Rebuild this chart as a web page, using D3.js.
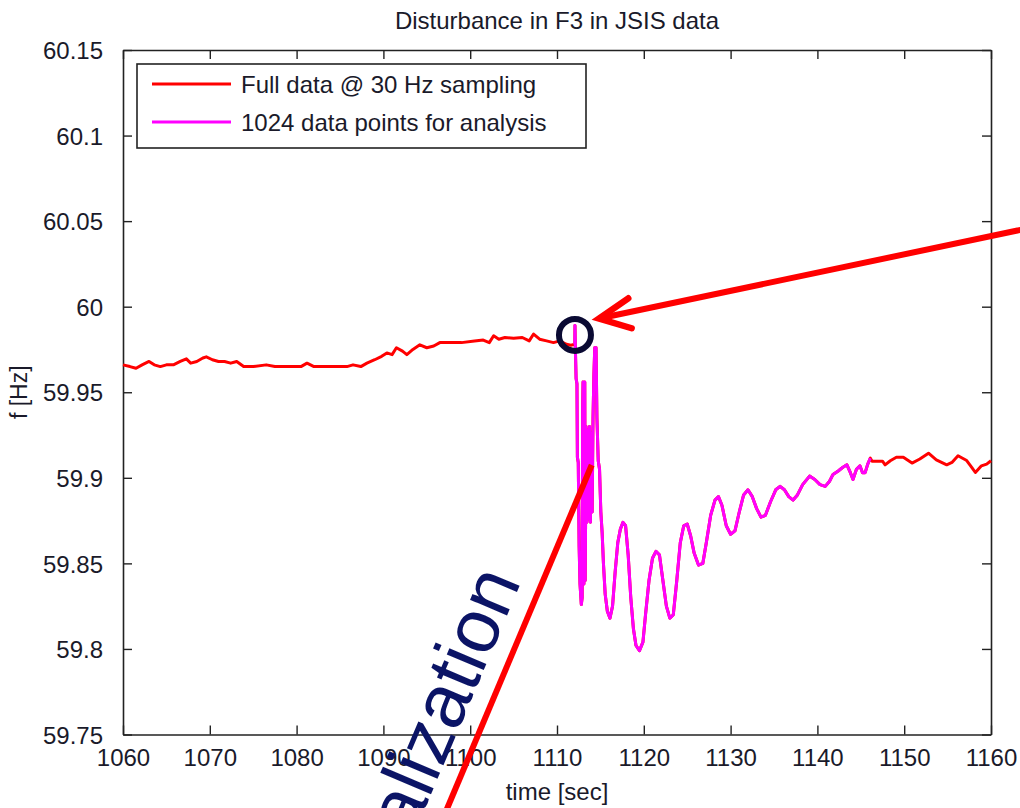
<!DOCTYPE html>
<html>
<head>
<meta charset="utf-8">
<script src="https://cdn.jsdelivr.net/npm/d3@7"></script>
<style>
  body { margin: 0; background: #fff; }
  svg { display: block; font-family: "Liberation Sans", Arial, sans-serif; }
</style>
</head>
<body>
<svg id="chart" width="1020" height="808"></svg>
<script>
// tick values
const xTicks = [1060, 1070, 1080, 1090, 1100, 1110, 1120, 1130, 1140, 1150, 1160];
const yTicks = [59.75, 59.8, 59.85, 59.9, 59.95, 60, 60.05, 60.1, 60.15];

const legendLabels = ["Full data @ 30 Hz sampling", "1024 data points for analysis"];

// full data before the analysis window [time, f]
const redBefore = [
  [1060.0, 59.966], [1060.8, 59.965], [1061.5, 59.964], [1062.2, 59.966], [1063.0, 59.968],
  [1063.6, 59.966], [1064.3, 59.965], [1065.0, 59.966], [1065.8, 59.966], [1066.6, 59.968],
  [1067.3, 59.9695], [1067.8, 59.967], [1068.5, 59.968], [1069.2, 59.970], [1069.6, 59.9707],
  [1070.3, 59.969], [1071.0, 59.968], [1071.7, 59.968], [1072.4, 59.967], [1073.1, 59.968],
  [1073.9, 59.965], [1075.0, 59.965], [1076.5, 59.966], [1077.5, 59.965], [1079.0, 59.965],
  [1080.5, 59.965], [1081.2, 59.967], [1082.0, 59.965], [1084.0, 59.965], [1085.8, 59.965],
  [1086.5, 59.966], [1087.4, 59.965], [1088.1, 59.967], [1089.0, 59.969], [1089.8, 59.971],
  [1090.4, 59.973], [1091.0, 59.972], [1091.5, 59.976], [1092.2, 59.974], [1092.7, 59.972],
  [1093.4, 59.975], [1094.2, 59.9777], [1095.0, 59.976], [1095.8, 59.977], [1096.5, 59.979],
  [1097.7, 59.979], [1099.0, 59.979], [1100.5, 59.980], [1101.5, 59.9805], [1102.2, 59.979],
  [1102.7, 59.983], [1103.3, 59.981], [1104.0, 59.982], [1105.0, 59.9815], [1106.0, 59.982],
  [1106.8, 59.980], [1107.3, 59.984], [1108.0, 59.981], [1108.8, 59.980], [1109.6, 59.979],
  [1110.3, 59.980], [1111.1, 59.978], [1111.6, 59.9775]
];

// the 1024 point analysis window
const analysis = [
  [1112.05, 59.978], [1112.07, 59.989], [1112.12, 59.975], [1112.2, 59.958], [1112.3, 59.955],
  [1112.35, 59.912], [1112.45, 59.909], [1112.55, 59.860], [1112.65, 59.838], [1112.8, 59.826],
  [1112.9, 59.830], [1112.95, 59.940], [1113.0, 59.956], [1113.05, 59.845], [1113.1, 59.838],
  [1113.15, 59.950], [1113.2, 59.956], [1113.25, 59.840], [1113.3, 59.880], [1113.35, 59.930],
  [1113.45, 59.874], [1113.55, 59.928], [1113.65, 59.876], [1113.75, 59.930], [1113.85, 59.874],
  [1113.95, 59.926], [1114.05, 59.880], [1114.15, 59.935], [1114.25, 59.960], [1114.35, 59.976],
  [1114.5, 59.976], [1114.6, 59.935], [1114.75, 59.910], [1114.9, 59.905], [1115.05, 59.880],
  [1115.2, 59.868], [1115.35, 59.850], [1115.55, 59.832], [1115.8, 59.822], [1116.1, 59.818],
  [1116.4, 59.825], [1116.7, 59.845], [1117.0, 59.862], [1117.3, 59.870], [1117.6, 59.874],
  [1117.9, 59.872], [1118.2, 59.855], [1118.5, 59.830], [1118.8, 59.812], [1119.1, 59.802],
  [1119.5, 59.799], [1119.9, 59.804], [1120.2, 59.820], [1120.6, 59.840], [1121.0, 59.853],
  [1121.4, 59.857], [1121.8, 59.855], [1122.2, 59.840], [1122.6, 59.825], [1123.0, 59.818],
  [1123.4, 59.820], [1123.8, 59.840], [1124.2, 59.862], [1124.6, 59.872], [1125.0, 59.873],
  [1125.4, 59.866], [1125.8, 59.856], [1126.3, 59.849], [1126.8, 59.850], [1127.2, 59.862],
  [1127.7, 59.878], [1128.2, 59.887], [1128.6, 59.889], [1129.0, 59.884], [1129.5, 59.872],
  [1130.0, 59.867], [1130.5, 59.869], [1131.0, 59.880], [1131.5, 59.890], [1132.0, 59.893],
  [1132.5, 59.889], [1133.0, 59.882], [1133.5, 59.877], [1134.0, 59.878], [1134.6, 59.886],
  [1135.2, 59.893], [1135.7, 59.895], [1136.2, 59.893], [1136.7, 59.889], [1137.2, 59.887],
  [1137.7, 59.890], [1138.3, 59.896], [1139.1, 59.901], [1139.7, 59.899], [1140.3, 59.896],
  [1140.9, 59.895], [1141.4, 59.898], [1141.8, 59.902], [1142.4, 59.904], [1142.9, 59.906],
  [1143.4, 59.9076], [1143.8, 59.903], [1144.1, 59.899], [1144.5, 59.905], [1144.9, 59.907],
  [1145.2, 59.903], [1145.5, 59.903], [1145.8, 59.908], [1146.1, 59.9115]
];

// full data after the analysis window
const redAfter = [
  [1146.3, 59.9097], [1147.5, 59.9097], [1147.8, 59.9076], [1148.4, 59.910], [1149.1, 59.912],
  [1149.9, 59.912], [1150.9, 59.9086], [1151.8, 59.911], [1152.8, 59.9144], [1153.7, 59.9105],
  [1154.9, 59.9076], [1155.5, 59.909], [1156.2, 59.9129], [1157.2, 59.9101], [1157.8, 59.906],
  [1158.2, 59.9031], [1158.9, 59.907], [1159.5, 59.908], [1160.0, 59.910]
];

// slide annotations, in data units
const markerPoint = [1112.07, 59.9835];
const arrowTail = [1163.9, 60.0454];
const arrowTip = [1114.84, 59.9931];
const arrowWings = [[1118.21, 60.0049], [1118.6, 59.9874]];
const slashLine = [[1114.0, 59.9075], [1096.3, 59.6942]];
const slashText = { at: [1105.9, 59.8395], label: "alization" };


const FreqChart = function(svg) {
  this.svg = d3.select(svg);
  this.margin = { left: 123, right: 29, top: 50, bottom: 73.5 };
  this.width = 1020 - this.margin.left - this.margin.right;
  this.height = 808 - this.margin.top - this.margin.bottom;

  this.x = d3.scaleLinear().domain([1060, 1160]).range([this.margin.left, this.margin.left + this.width]);
  this.y = d3.scaleLinear().domain([59.75, 60.15]).range([this.margin.top + this.height, this.margin.top]);

  this.line = d3.line()
    .x(d => this.x(d[0]))
    .y(d => this.y(d[1]));
};

FreqChart.prototype.draw = function() {
  this.drawAxes();
  this.drawSeries();
  this.drawLegend();
  this.drawLabels();
  this.drawAnnotations();
};

FreqChart.prototype.drawAxes = function() {
  const x = this.x, y = this.y, m = this.margin;
  const tick = 9;
  const fmt = d => String(+d.toFixed(2));

  const bottom = this.svg.append("g")
    .attr("transform", "translate(0," + (m.top + this.height) + ")")
    .call(d3.axisBottom(x).tickValues(xTicks).tickSizeInner(-tick).tickSizeOuter(0).tickPadding(14).tickFormat(d3.format("d")));
  const top = this.svg.append("g")
    .attr("transform", "translate(0," + m.top + ")")
    .call(d3.axisTop(x).tickValues(xTicks).tickSizeInner(-tick).tickSizeOuter(0).tickFormat(""));
  const left = this.svg.append("g")
    .attr("transform", "translate(" + m.left + ",0)")
    .call(d3.axisLeft(y).tickValues(yTicks).tickSizeInner(-tick).tickSizeOuter(0).tickPadding(20).tickFormat(fmt));
  const right = this.svg.append("g")
    .attr("transform", "translate(" + (m.left + this.width) + ",0)")
    .call(d3.axisRight(y).tickValues(yTicks).tickSizeInner(-tick).tickSizeOuter(0).tickFormat(""));

  [bottom, top, left, right].forEach(g => {
    g.select(".domain").attr("stroke", "#222").attr("stroke-width", 1.6);
    g.selectAll(".tick line").attr("stroke", "#222").attr("stroke-width", 1.4);
    g.selectAll("text")
      .attr("fill", "#1a1a2a")
      .style("font-size", "24px");
  });
  left.selectAll("text").attr("dy", "0.36em");
};

FreqChart.prototype.drawSeries = function() {
  const full = redBefore.concat(analysis, redAfter);

  this.svg.append("path")
    .datum(full)
    .attr("fill", "none")
    .attr("stroke", "#ff0000")
    .attr("stroke-width", 3)
    .attr("stroke-linejoin", "round")
    .attr("d", this.line);

  this.svg.append("path")
    .datum(analysis)
    .attr("fill", "none")
    .attr("stroke", "#ff00ff")
    .attr("stroke-width", 3)
    .attr("stroke-linejoin", "round")
    .attr("d", this.line);
};

FreqChart.prototype.drawLegend = function() {
  const g = this.svg.append("g").attr("transform", "translate(137,64)");
  const colors = ["#ff0000", "#ff00ff"];

  g.append("rect")
    .attr("width", 449)
    .attr("height", 84)
    .attr("fill", "#fff")
    .attr("stroke", "#222")
    .attr("stroke-width", 1.6);

  const item = g.selectAll(".item")
    .data(legendLabels)
    .enter().append("g")
    .attr("class", "item")
    .attr("transform", (d, i) => "translate(0," + (20 + i * 38) + ")");

  item.append("line")
    .attr("x1", 15).attr("x2", 94)
    .attr("stroke", (d, i) => colors[i])
    .attr("stroke-width", 3);

  item.append("text")
    .attr("x", 104)
    .attr("dy", "0.36em")
    .attr("fill", "#1a1a2a")
    .style("font-size", "24px")
    .text(d => d);
};

FreqChart.prototype.drawLabels = function() {
  const m = this.margin;
  const cx = m.left + this.width / 2;

  this.svg.append("text")
    .attr("x", cx).attr("y", 29)
    .attr("text-anchor", "middle")
    .attr("fill", "#1a1a2a")
    .style("font-size", "24px")
    .text("Disturbance in F3 in JSIS data");

  this.svg.append("text")
    .attr("x", cx).attr("y", 800)
    .attr("text-anchor", "middle")
    .attr("fill", "#1a1a2a")
    .style("font-size", "24px")
    .text("time [sec]");

  this.svg.append("text")
    .attr("transform", "translate(27," + (m.top + this.height / 2) + ") rotate(-90)")
    .attr("text-anchor", "middle")
    .attr("fill", "#1a1a2a")
    .style("font-size", "23px")
    .text("f [Hz]");
};

FreqChart.prototype.drawAnnotations = function() {
  const x = this.x, y = this.y;
  const g = this.svg.append("g");

  // pointer arrow into the start of the window
  g.append("line")
    .attr("x1", x(arrowTail[0])).attr("y1", y(arrowTail[1]))
    .attr("x2", x(arrowTip[0])).attr("y2", y(arrowTip[1]))
    .attr("stroke", "#ff0000")
    .attr("stroke-width", 6);

  g.append("path")
    .datum([arrowWings[0], arrowTip, arrowWings[1]])
    .attr("fill", "none")
    .attr("stroke", "#ff0000")
    .attr("stroke-width", 6.5)
    .attr("stroke-linecap", "round")
    .attr("stroke-linejoin", "miter")
    .attr("d", this.line);

  g.append("circle")
    .attr("cx", x(markerPoint[0]))
    .attr("cy", y(markerPoint[1]))
    .attr("r", 16)
    .attr("fill", "none")
    .attr("stroke", "#0a0a33")
    .attr("stroke-width", 6);

  g.append("path")
    .datum(slashLine)
    .attr("fill", "none")
    .attr("stroke", "#ff0000")
    .attr("stroke-width", 6)
    .attr("d", this.line);

  const tx = x(slashText.at[0]), ty = y(slashText.at[1]);
  g.append("text")
    .attr("transform", "translate(" + tx + "," + ty + ") rotate(-67)")
    .attr("text-anchor", "end")
    .attr("fill", "#0b1466")
    .style("font-size", "76px")
    .text(slashText.label);
};

const chart = new FreqChart(document.getElementById("chart"));
chart.draw();
</script>
</body>
</html>
